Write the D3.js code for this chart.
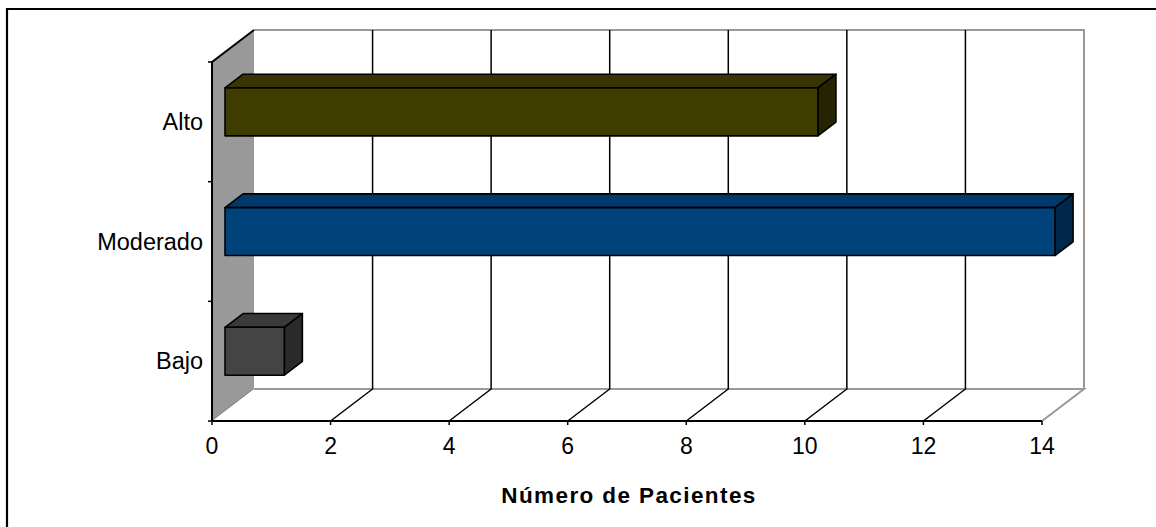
<!DOCTYPE html>
<html>
<head>
<meta charset="utf-8">
<script src="https://cdn.jsdelivr.net/npm/d3@7/dist/d3.min.js"></script>
<style>
  html, body { margin: 0; padding: 0; background: #fff; }
  svg { display: block; font-family: "Liberation Sans", Arial, sans-serif; }
</style>
</head>
<body>
<svg id="chart" width="1156" height="527"></svg>
<script>
// Patients by level (top to bottom as drawn)
const categories = ["Alto", "Moderado", "Bajo"];
const values = [10, 14, 1];
const xTicks = [0, 2, 4, 6, 8, 10, 12, 14];
const axisTitle = "Número de Pacientes";

const fronts = ["#403d00", "#00427a", "#444444"];
const tops   = ["#383500", "#003a6c", "#3a3a3a"];
const sides  = ["#262400", "#00284c", "#2a2a2a"];

(function () {
const svg = d3.select("#chart");

// Outer frame
svg.append("path")
  .attr("d", "M7,540 L7,9 L1160,9")
  .attr("fill", "none").attr("stroke", "#000").attr("stroke-width", 2.2);

// Front plane of the plot and the oblique depth offset
const pLeft = 212, pRight = 1042, pTop = 62, pBottom = 421;
const DX = 42, DY = -32;

const x = d3.scaleLinear().domain([0, 14]).range([pLeft, pRight]);
const y = d3.scaleBand().domain(categories).range([pTop, pBottom])
  .paddingInner(0.6).paddingOuter(0.3);

const g = svg.append("g");
const pt = (px, py) => px + "," + py;

// Back wall
g.append("rect")
  .attr("x", pLeft + DX).attr("y", pTop + DY)
  .attr("width", pRight - pLeft).attr("height", pBottom - pTop)
  .attr("fill", "#fff");
g.append("path")
  .attr("d", `M${pLeft + DX},${pTop + DY} L${pRight + DX},${pTop + DY} L${pRight + DX},${pBottom + DY}`)
  .attr("fill", "none").attr("stroke", "#999").attr("stroke-width", 2);

// Left wall
g.append("polygon")
  .attr("points", [pt(pLeft, pTop), pt(pLeft + DX, pTop + DY), pt(pLeft + DX, pBottom + DY), pt(pLeft, pBottom)].join(" "))
  .attr("fill", "#999");
g.append("line")
  .attr("x1", pLeft).attr("y1", pBottom).attr("x2", pLeft + DX).attr("y2", pBottom + DY)
  .attr("stroke", "#777").attr("stroke-width", 1.5);

// Floor
g.append("polygon")
  .attr("points", [pt(pLeft, pBottom), pt(pRight, pBottom), pt(pRight + DX, pBottom + DY), pt(pLeft + DX, pBottom + DY)].join(" "))
  .attr("fill", "#fff");
g.append("path")
  .attr("d", `M${pLeft + DX},${pBottom + DY} L${pRight + DX},${pBottom + DY} L${pRight},${pBottom}`)
  .attr("fill", "none").attr("stroke", "#999").attr("stroke-width", 2);

// Gridlines: across the floor and up the back wall
xTicks.filter(v => v > 0 && v < 14).forEach(v => {
  const px = x(v);
  g.append("path")
    .attr("d", `M${px},${pBottom} L${px + DX},${pBottom + DY} L${px + DX},${pTop + DY}`)
    .attr("fill", "none").attr("stroke", "#000").attr("stroke-width", 1.5);
});

// Left axis edges and category ticks
g.append("path")
  .attr("d", `M${pLeft + DX},${pTop + DY} L${pLeft},${pTop} L${pLeft},${pBottom}`)
  .attr("fill", "none").attr("stroke", "#000").attr("stroke-width", 2);
d3.range(categories.length + 1).forEach(i => {
  const py = pTop + i * (pBottom - pTop) / categories.length;
  g.append("line").attr("x1", pLeft - 4).attr("x2", pLeft).attr("y1", py).attr("y2", py)
    .attr("stroke", "#000").attr("stroke-width", 1.5);
});

// Bottom axis line, ticks and labels
g.append("line").attr("x1", pLeft).attr("x2", pRight).attr("y1", pBottom).attr("y2", pBottom)
  .attr("stroke", "#000").attr("stroke-width", 2);
xTicks.forEach(v => {
  g.append("line").attr("x1", x(v)).attr("x2", x(v)).attr("y1", pBottom).attr("y2", pBottom + 4)
    .attr("stroke", "#000").attr("stroke-width", 1.5);
  g.append("text").attr("x", x(v)).attr("y", pBottom + 33)
    .attr("text-anchor", "middle").attr("font-size", 23).attr("fill", "#000")
    .text(v);
});

// Category labels
categories.forEach(c => {
  g.append("text").attr("x", pLeft - 9).attr("y", y(c) + y.bandwidth() / 2 + 8)
    .attr("text-anchor", "end").attr("font-size", 23.5).attr("fill", "#000")
    .text(c);
});

// Axis title
g.append("text").attr("x", (pLeft + pRight) / 2 + 2).attr("y", 503)
  .attr("text-anchor", "middle").attr("font-size", 22.5).attr("font-weight", "bold")
  .attr("letter-spacing", 1.4).attr("fill", "#000")
  .text(axisTitle);

// Bars: box placed between 31% and 74% of the depth
const z0 = 0.31, z1 = 0.74;
categories.forEach((c, i) => {
  const ox = DX * z0, oy = DY * z0;
  const dx = DX * (z1 - z0), dy = DY * (z1 - z0);
  const x0 = x(0) + ox, x1 = x(values[i]) + ox;
  const y0 = y(c) + oy, y1 = y(c) + y.bandwidth() + oy;
  const bar = g.append("g").attr("stroke", "#000").attr("stroke-width", 1.6)
    .attr("stroke-linejoin", "round");
  bar.append("polygon")
    .attr("points", [pt(x0, y0), pt(x0 + dx, y0 + dy), pt(x1 + dx, y0 + dy), pt(x1, y0)].join(" "))
    .attr("fill", tops[i]);
  bar.append("polygon")
    .attr("points", [pt(x1, y0), pt(x1 + dx, y0 + dy), pt(x1 + dx, y1 + dy), pt(x1, y1)].join(" "))
    .attr("fill", sides[i]);
  bar.append("rect")
    .attr("x", x0).attr("y", y0).attr("width", x1 - x0).attr("height", y1 - y0)
    .attr("fill", fronts[i]);
});
})();
</script>
</body>
</html>
